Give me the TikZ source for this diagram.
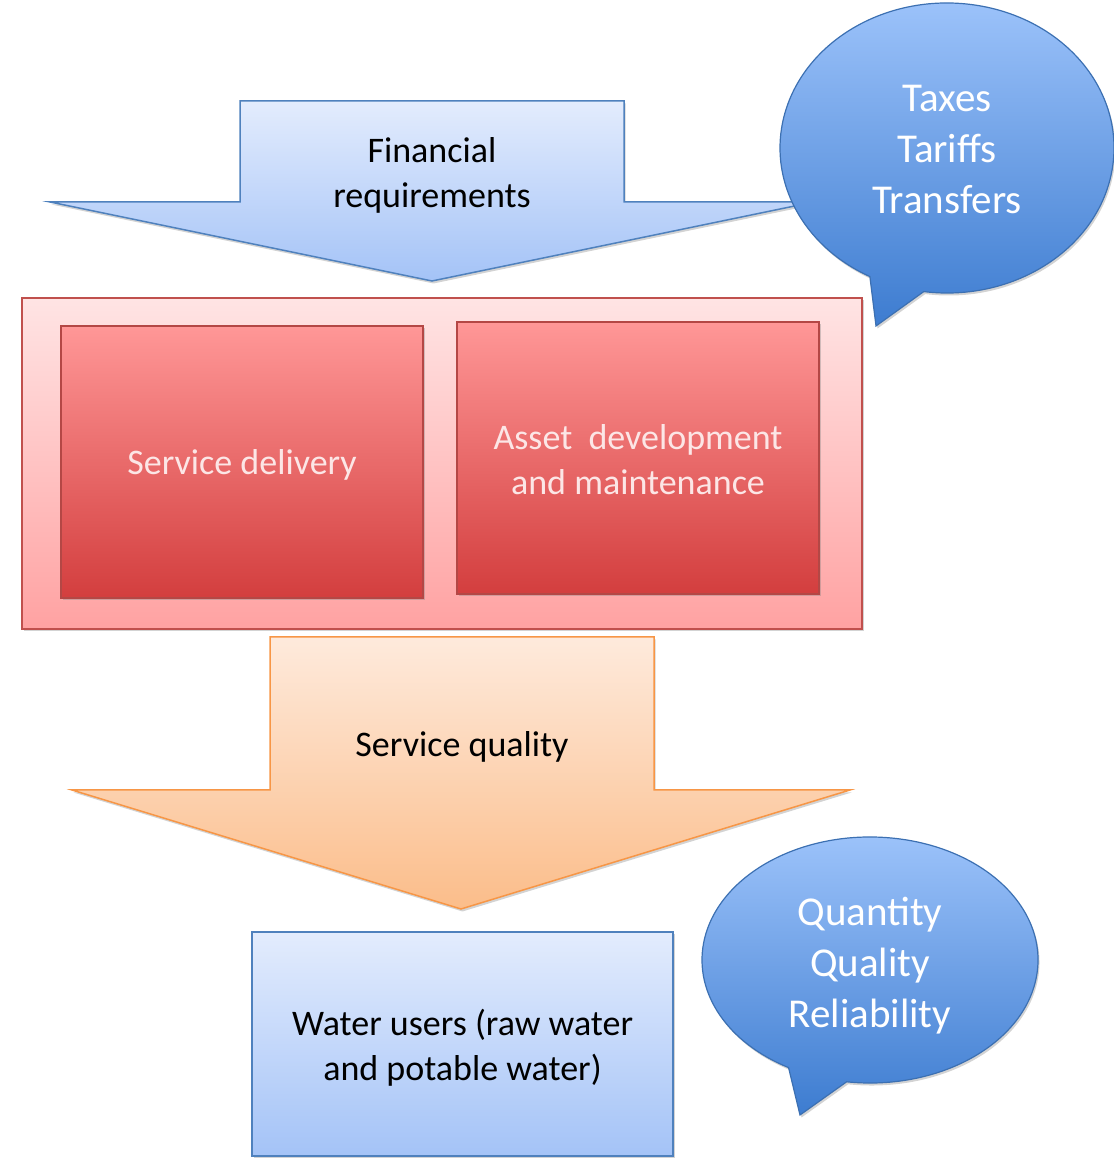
\documentclass[tikz,border=0pt]{standalone}
\usepackage{fontspec}
\setmainfont{Carlito}
\usetikzlibrary{calc,shadows}

\definecolor{blueline}{HTML}{4F81BD}
\definecolor{bluetop}{HTML}{E3ECFD}
\definecolor{bluebot}{HTML}{A4C3F7}
\definecolor{bubbletop}{HTML}{9EC4FB}
\definecolor{bubblebot}{HTML}{3D7CD0}
\definecolor{bubbleline}{HTML}{3C70B2}
\definecolor{redline}{HTML}{C0504D}
\definecolor{pinktop}{HTML}{FFE4E4}
\definecolor{pinkbot}{HTML}{FFA2A2}
\definecolor{redtop}{HTML}{FF9797}
\definecolor{redbot}{HTML}{D33E3E}
\definecolor{darkred}{HTML}{B44745}
\definecolor{redtext}{HTML}{FCE6E6}
\definecolor{orangeline}{HTML}{F79646}
\definecolor{orangetop}{HTML}{FEEADC}
\definecolor{orangebot}{HTML}{FBBD8A}

\begin{document}
\begin{tikzpicture}[x=1pt, y=1pt,
    softshadow/.style={drop shadow={shadow xshift=1.5pt, shadow yshift=-2.5pt, opacity=0.35}},
    bluearrow/.style={draw=blueline, line width=1.5pt, top color=bluetop, bottom color=bluebot, softshadow},
    orangearrow/.style={draw=orangeline, line width=1.5pt, top color=orangetop, bottom color=orangebot, softshadow},
    outerbox/.style={draw=redline, line width=1.5pt, top color=pinktop, bottom color=pinkbot, softshadow},
    redbox/.style={draw=darkred, line width=1.2pt, top color=redtop, bottom color=redbot, minimum width=362pt, minimum height=272pt, softshadow},
    userbox/.style={draw=blueline, line width=1.5pt, top color=bluetop, bottom color=bluebot, minimum width=421pt, minimum height=224pt, softshadow},
    boxtext/.style={font=\fontsize{36}{45}\selectfont, align=center},
    bubble/.style={draw=bubbleline, line width=1.2pt, top color=bubbletop, bottom color=bubblebot, softshadow},
    bubbletext/.style={text=white, font=\fontsize{41}{51}\selectfont, align=center}]
    \useasboundingbox (0,0) rectangle (1114,1160);

    % Financial arrow.
    \coordinate (FT) at (432,879);
    \path[bluearrow] (50,958) -- (240,958) -- (240,1059) -- (624,1059) -- (624,958) -- (814,958) -- (FT) -- cycle;
    \node[boxtext] (finance) at (432,985) {Financial\\requirements};

    % Bubble, money.
    \coordinate (B1) at (947,1012);
    \coordinate (T1) at (876,834);
    \path[bubble] ($(B1)+(262:167pt and 145pt)$) arc[start angle=262, end angle=602.5, x radius=167pt, y radius=145pt] -- (T1) -- cycle;
    \node[bubbletext] (money) at (947,1010) {Taxes\\Tariffs\\Transfers};

    % Services.
    \node[outerbox, minimum width=840pt, minimum height=331pt] (services) at (442,696.5) {};
    \node[redbox] (delivery) at (242,698) {};
    \node[boxtext, text=redtext] (deliverytext) at (242,695) {Service delivery};
    \node[redbox] (assets) at (638,702) {};
    \node[boxtext, text=redtext] (assetstext) at (638,700) {Asset~ development\\and maintenance};

    % Quality arrow.
    \coordinate (QT) at (461,251);
    \path[orangearrow] (72,370) -- (270,370) -- (270,523) -- (654,523) -- (654,370) -- (850,370) -- (QT) -- cycle;
    \node[boxtext] (quality) at (462,413) {Service quality};

    % Users.
    \node[userbox] (users) at (462.5,116) {};
    \node[boxtext] (userstext) at (462.5,112) {Water users (raw water\\and potable water)};

    % Bubble, users.
    \coordinate (B2) at (870,200);
    \coordinate (T2) at (800,45);
    \path[bubble] ($(B2)+(262:168pt and 123pt)$) arc[start angle=262, end angle=601, x radius=168pt, y radius=123pt] -- (T2) -- cycle;
    \node[bubbletext] (needs) at (870,194) {Quantity\\Quality\\Reliability};
\end{tikzpicture}
\end{document}
